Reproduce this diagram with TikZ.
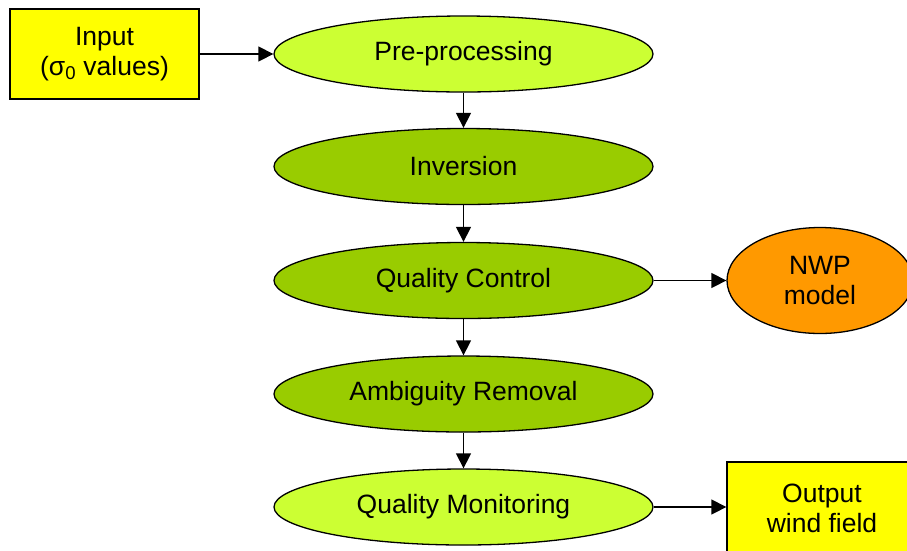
\documentclass[tikz,border=0pt]{standalone}
\usepackage{fontspec}
\setmainfont{Liberation Sans}
\usetikzlibrary{shapes.geometric,arrows.meta}
\definecolor{ylw}{HTML}{FFFF00}
\definecolor{lgreen}{HTML}{CCFF33}
\definecolor{dgreen}{HTML}{99CC00}
\definecolor{orng}{HTML}{FF9900}
\begin{document}
\begin{tikzpicture}[x=1pt,y=-1pt,
  every node/.style={font=\fontsize{26.5}{30}\selectfont, line width=1.3pt, draw=black, align=center, inner sep=0pt},
  stage/.style={ellipse, minimum width=379pt, minimum height=76pt},
  lstage/.style={stage, fill=lgreen},
  dstage/.style={stage, fill=dgreen},
  iobox/.style={rectangle, fill=ylw},
  flow/.style={line width=1.3pt, -{Triangle[length=15pt,width=15pt]}}]
\useasboundingbox (0,0) rectangle (907,550);
\node[iobox, minimum width=189pt, minimum height=90pt] (in) at (104.5,54) {Input\\(σ\textsubscript{0} values)};
\node[lstage] (pre) at (463.5,54) {Pre-processing};
\node[dstage] (inv) at (463.5,166.5) {Inversion};
\node[dstage] (qc) at (463.5,280.5) {Quality Control};
\node[dstage] (amb) at (463.5,394) {Ambiguity Removal};
\node[lstage] (qm) at (463.5,507) {Quality Monitoring};
\node[ellipse, fill=orng, minimum width=186pt, minimum height=106pt] (nwp) at (820,280.5) {NWP\\model};
\node[iobox, minimum width=190pt, minimum height=92pt] (out) at (822,508) {Output\\wind field};
\draw[flow] (in) -- (pre);
\draw[flow] (pre) -- (inv);
\draw[flow] (inv) -- (qc);
\draw[flow] (qc) -- (amb);
\draw[flow] (amb) -- (qm);
\draw[flow] (qc.east) -- (nwp.west);
\draw[flow] (qm.east) -- (qm.east -| out.west);
\end{tikzpicture}
\end{document}
